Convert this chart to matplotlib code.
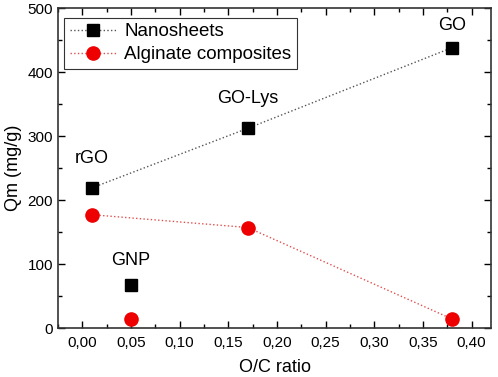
import matplotlib
matplotlib.use("Agg")
import matplotlib.pyplot as plt
from matplotlib.ticker import MultipleLocator, FuncFormatter

plt.rcParams['font.family'] = ['Liberation Sans', 'DejaVu Sans']

# Data
names = ["rGO", "GNP", "GO-Lys", "GO"]
oc_ratio = [0.01, 0.05, 0.17, 0.38]
nanosheets = [219, 67, 312, 438]
alginate = [177, 14, 157, 14]
connected = [0, 2, 3]  # GNP not connected
label_y = [265, 105, 358, 472]

fig = plt.figure(figsize=(4.98, 3.77), dpi=100)
ax = fig.add_axes([58/498, 1-328/377, (491-58)/498, (328-8)/377])

xs_c = [oc_ratio[i] for i in connected]
ax.plot(xs_c, [nanosheets[i] for i in connected], linestyle=':', color='#555555', lw=1.0, zorder=1)
ax.plot(xs_c, [alginate[i] for i in connected], linestyle=':', color='#e05050', lw=1.0, zorder=1)
ax.plot(oc_ratio, nanosheets, linestyle='none', marker='s', color='black', ms=8.5, zorder=3)
ax.plot(oc_ratio, alginate, linestyle='none', marker='o', color='#ee0000', ms=9.5, zorder=3)

# legend handles
h1, = ax.plot([], [], linestyle=':', color='#555555', marker='s', mfc='black', mec='black', ms=8.5, lw=1.0)
h2, = ax.plot([], [], linestyle=':', color='#e05050', marker='o', mfc='#ee0000', mec='#ee0000', ms=9.5, lw=1.0)
leg = ax.legend([h1, h2], ["Nanosheets", "Alginate composites"], loc='upper left',
                bbox_to_anchor=(0.014, 0.97), fontsize=13.5, frameon=True, fancybox=False,
                edgecolor='#333333', framealpha=1, borderpad=0.3, labelspacing=0.3,
                handlelength=2.5, handletextpad=0.4, borderaxespad=0)
leg.get_frame().set_linewidth(0.8)

for n, x, y in zip(names, oc_ratio, label_y):
    ax.text(x, y, n, ha='center', va='center', fontsize=13)

ax.set_xlim(-0.025, 0.42)
ax.set_ylim(0, 500)
ax.xaxis.set_major_locator(MultipleLocator(0.05))
ax.xaxis.set_minor_locator(MultipleLocator(0.025))
ax.yaxis.set_major_locator(MultipleLocator(100))
ax.yaxis.set_minor_locator(MultipleLocator(50))
ax.xaxis.set_major_formatter(FuncFormatter(lambda v, p: f"{v:.2f}".replace('.', ',')))
ax.tick_params(which='both', direction='in', top=True, right=True, labelsize=11, width=1)
ax.tick_params(which='major', length=5)
ax.tick_params(which='minor', length=3)
ax.tick_params(axis='x', pad=6)
for s in ax.spines.values():
    s.set_linewidth(1.2)
    s.set_color('#333333')

ax.set_xlabel("O/C ratio", fontsize=13, labelpad=6)
ax.set_ylabel("Qm (mg/g)", fontsize=13)

fig.savefig("out.png", dpi=100)
